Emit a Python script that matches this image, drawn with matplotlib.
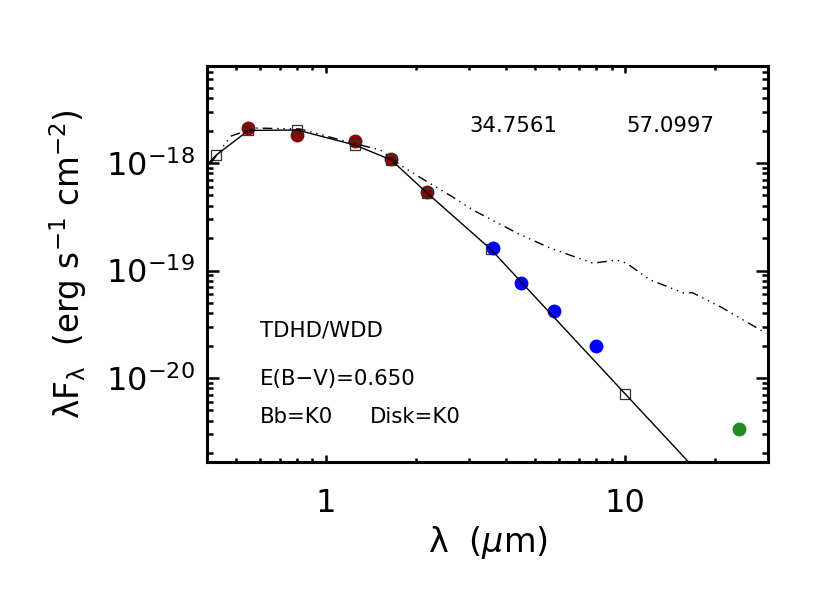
import math
import matplotlib
matplotlib.use('Agg')
import matplotlib.pyplot as plt
from matplotlib.ticker import LogLocator, FixedLocator, FixedFormatter, NullFormatter

# photometry (wavelength in micron, lambda*F_lambda)
red_wl = [0.55, 0.80, 1.25, 1.65, 2.17]
red_f = [2.12e-18, 1.82e-18, 1.60e-18, 1.09e-18, 5.4e-19]
blue_wl = [3.6, 4.5, 5.8, 8.0]
blue_f = [1.62e-19, 7.6e-20, 4.2e-20, 2.0e-20]
green_wl = [24.0]
green_f = [3.35e-21]

# model points (open squares)
sq_wl = [0.43, 0.55, 0.80, 1.25, 1.65, 2.17, 3.55, 10.0]
sq_f = [1.19e-18, 2.01e-18, 2.03e-18, 1.47e-18, 1.07e-18, 5.3e-19, 1.58e-19, 7.1e-21]

# photosphere model (solid)
phot_wl = [0.405, 0.43, 0.55, 0.80, 1.25, 1.65, 2.17, 3.55, 10.0, 17.0]
phot_f = [1.0e-18, 1.19e-18, 2.01e-18, 2.03e-18, 1.47e-18, 1.07e-18, 5.3e-19, 1.58e-19, 7.1e-21, 1.45e-21]

# disk model (dash dot dot dot)
disk_wl = [0.412, 0.481, 0.573, 0.822, 1.117, 1.52, 1.81, 2.28, 2.66, 3.10,
           4.35, 5.60, 7.79, 9.37, 10.1, 12.1, 15.6, 16.8, 21.1, 29.6]
disk_f = [1.0e-18, 1.78e-18, 2.12e-18, 2.07e-18, 1.64e-18, 1.32e-18, 9.2e-19, 6.2e-19, 4.8e-19, 3.65e-19,
          2.23e-19, 1.62e-19, 1.17e-19, 1.25e-19, 1.17e-19, 8.2e-20, 6.2e-20, 6.2e-20, 4.5e-20, 2.6e-20]

y_major = [1e-20, 1e-19, 1e-18]
x_major = [1, 10]

fig = plt.figure(figsize=(8.3, 5.93), dpi=100)
ax = fig.add_axes([207 / 830, 1 - 461.5 / 593, 561 / 830, 395.5 / 593])

ax.plot(red_wl, red_f, 'o', color='#8b0000', ms=10, mec='none', zorder=2)
ax.plot(sq_wl, sq_f, 's', mfc='none', mec='#333333', mew=0.9, ms=7.5, zorder=3)
ax.plot(blue_wl, blue_f, 'o', color='#0000ff', ms=10, mec='none', zorder=3.5)
ax.plot(green_wl, green_f, 'o', color='#228b22', ms=10, mec='none', zorder=3.5)
ax.plot(phot_wl, phot_f, '-', color='k', lw=1.0, zorder=4)
ax.plot(disk_wl, disk_f, color='k', lw=1.0, zorder=4,
        linestyle=(0, (7, 3.5, 1, 3.5, 1, 3.5, 1, 3.5)))

ax.set_xscale('log')
ax.set_yscale('log')
ax.set_xlim(0.4, 30)
ax.set_ylim(1.67e-21, 8.0e-18)

ax.xaxis.set_major_locator(FixedLocator(x_major))
ax.xaxis.set_major_formatter(FixedFormatter([str(v) for v in x_major]))
ax.xaxis.set_minor_locator(LogLocator(base=10, subs=range(2, 10)))
ax.xaxis.set_minor_formatter(NullFormatter())
ax.yaxis.set_major_locator(FixedLocator(y_major))
ax.yaxis.set_major_formatter(FixedFormatter([r'$10^{%d}$' % round(math.log10(v)) for v in y_major]))
ax.yaxis.set_minor_locator(LogLocator(base=10, subs=range(2, 10), numticks=20))
ax.yaxis.set_minor_formatter(NullFormatter())

for s in ax.spines.values():
    s.set_linewidth(2.2)
ax.tick_params(which='both', direction='in', top=True, right=True, width=1.8)
ax.tick_params(axis='x', which='major', length=5, labelsize=23, pad=19)
ax.tick_params(axis='x', which='minor', length=2.8)
ax.tick_params(axis='y', which='major', length=8.6, labelsize=23, pad=9)
ax.tick_params(axis='y', which='minor', length=4.3)

ax.set_xlabel(r'λ  ($\mu$m)', fontsize=24, labelpad=4)
ax.set_ylabel(r'λF$_\mathregular{λ}$  (erg s$^{-1}$ cm$^{-2}$)', fontsize=23.5, labelpad=12)

fs = 15.3
ax.text(0.467, 0.833, '34.7561', transform=ax.transAxes, fontsize=fs, va='baseline')
ax.text(0.747, 0.833, '57.0997', transform=ax.transAxes, fontsize=fs, va='baseline')
ax.text(0.0945, 0.315, 'TDHD/WDD', transform=ax.transAxes, fontsize=fs, va='baseline')
ax.text(0.0945, 0.193, 'E(B\u2212V)=0.650', transform=ax.transAxes, fontsize=fs, va='baseline')
ax.text(0.0945, 0.0973, 'Bb=K0', transform=ax.transAxes, fontsize=fs, va='baseline')
ax.text(0.2906, 0.0973, 'Disk=K0', transform=ax.transAxes, fontsize=fs, va='baseline')

fig.savefig('out.png', dpi=100)
